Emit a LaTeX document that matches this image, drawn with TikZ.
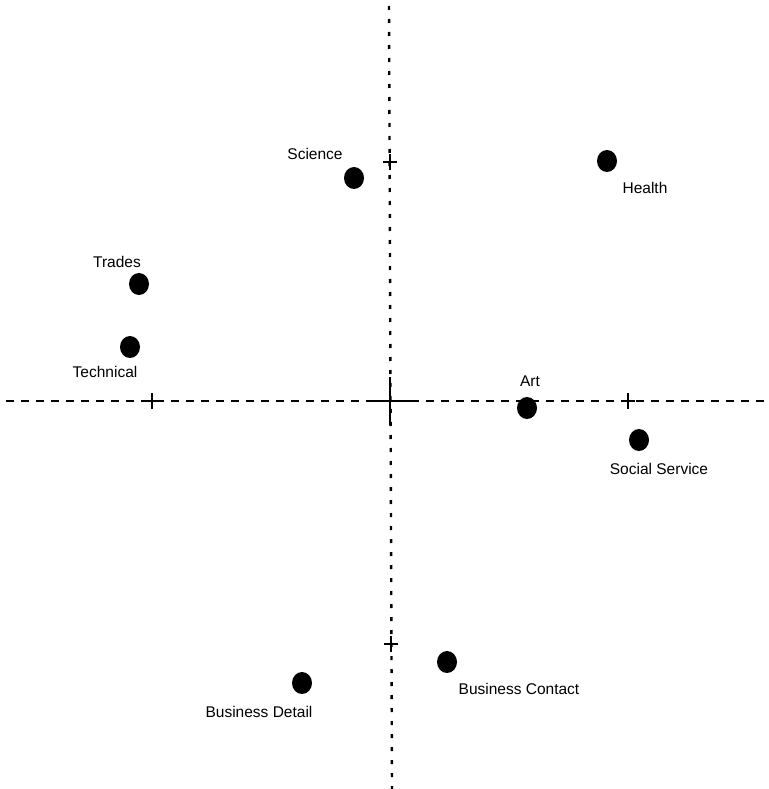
\documentclass[tikz,border=0pt]{standalone}
\usepackage{fontspec}
\setmainfont{Liberation Sans}
\usetikzlibrary{positioning, shapes.geometric}

\tikzset{
  dot/.style={ellipse, fill=black, inner sep=0pt, minimum width=20pt, minimum height=22pt},
  lbl/.style={inner sep=0pt, font=\fontsize{15.5}{17}\selectfont},
  haxis/.style={line width=2.4pt, dash pattern=on 8pt off 7pt},
  vaxis/.style={line width=2.4pt, dash pattern=on 4pt off 9pt},
  tick/.style={line width=2.4pt},
}

\begin{document}
\begin{tikzpicture}[x=1pt,y=-1pt]
    \useasboundingbox (0,0) rectangle (768,789);

    % axes
    \coordinate (west) at (6,401);
    \coordinate (east) at (768,401);
    \coordinate (north) at (389,6);
    \coordinate (south) at (392,789);
    \coordinate (o) at (390,401);
    \draw[haxis] (west) -- (east);
    \draw[vaxis] (north) -- (south);

    % ticks
    \coordinate (tn) at (390,162);
    \coordinate (ts) at (391,644);
    \coordinate (tw) at (152,401);
    \coordinate (te) at (628,401);
    \draw[tick] ([xshift=-24pt]o) -- ([xshift=24pt]o);
    \draw[tick] ([yshift=-24pt]o) -- ([yshift=24pt]o);
    \foreach \t in {tn,ts,tw,te} {
        \draw[tick] ([xshift=-7pt]\t) -- ([xshift=7pt]\t);
        \draw[tick] ([yshift=-8pt]\t) -- ([yshift=8pt]\t);
    }

    % occupations
    \node[dot] (sci) at (354,178) {};
    \node[dot] (hlth) at (607,161) {};
    \node[dot] (trd) at (139,284) {};
    \node[dot] (tech) at (130,347) {};
    \node[dot] (art) at (527,408) {};
    \node[dot] (soc) at (639,440) {};
    \node[dot] (bcon) at (447,662) {};
    \node[dot] (bdet) at (302,683) {};

    \node[lbl] (scil) at (315,154) {Science};
    \node[lbl] (hlthl) at (645,188) {Health};
    \node[lbl] (trdl) at (117,262) {Trades};
    \node[lbl] (techl) at (105,372) {Technical};
    \node[lbl] (artl) at (530,381) {Art};
    \node[lbl] (socl) at (659,469) {Social Service};
    \node[lbl] (bconl) at (519,689) {Business Contact};
    \node[lbl] (bdetl) at (259,712) {Business Detail};
\end{tikzpicture}
\end{document}
